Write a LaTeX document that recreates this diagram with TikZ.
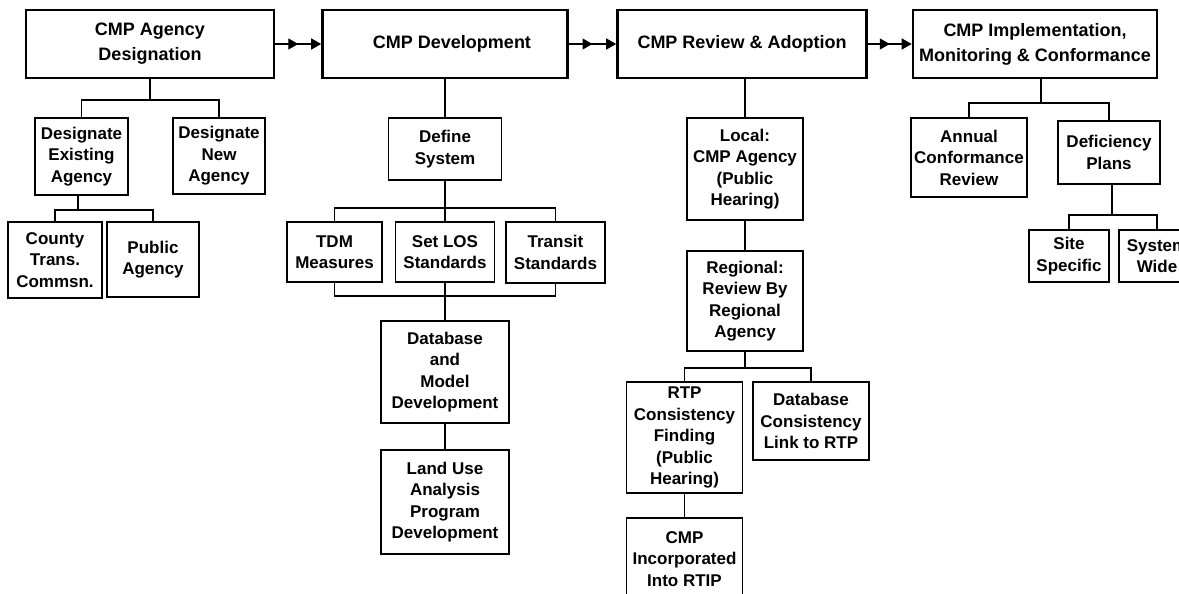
\documentclass[tikz,border=0pt]{standalone}
\usepackage{fontspec}
\setmainfont{Liberation Sans}
\usetikzlibrary{arrows.meta,decorations.markings}
\begin{document}
\begin{tikzpicture}[x=1pt,y=-1pt,
  stage/.style={draw, line width=2.6pt, rectangle, inner sep=0pt, align=center,
    font=\fontsize{18}{25}\selectfont\bfseries},
  task/.style={draw, line width=1.3pt, rectangle, inner sep=0pt, align=center,
    font=\fontsize{17}{21.5}\selectfont\bfseries},
  link/.style={line width=1.3pt},
  flow/.style={line width=1.3pt, -{Triangle[length=10pt,width=11pt]},
    postaction={decorate},
    decoration={markings, mark=at position 0.5 with {\arrow{Triangle[length=10pt,width=11pt]}}}}
]
\useasboundingbox (0,0) rectangle (1179,594);
\clip (0,0) rectangle (1179,594);

% main stages
\node[stage, minimum width=248, minimum height=68] (h1) at (150,44) {CMP Agency\\Designation};
\node[stage, minimum width=245, minimum height=68] (h2) at (445,44) {\hspace*{14pt}CMP Development};
\node[stage, minimum width=249, minimum height=68] (h3) at (742,44) {CMP Review \& Adoption};
\node[stage, minimum width=244, minimum height=68] (h4) at (1035,44) {CMP Implementation,\\Monitoring \& Conformance};

\draw[flow] (h1) -- (h2);
\draw[flow] (h2) -- (h3);
\draw[flow] (h3) -- (h4);

% agency designation
\node[task, minimum width=93, minimum height=77] (c1a) at (81.5,156.5) {Designate\\Existing\\Agency};
\node[task, minimum width=92, minimum height=76] (c1b) at (219,156) {Designate\\New\\Agency};
\node[task, minimum width=94, minimum height=76] (c1c) at (55,260) {County\\Trans.\\Commsn.};
\node[task, minimum width=92, minimum height=75] (c1d) at (153,259.5) {Public\\Agency};

\coordinate (j1) at (150,100);
\draw[link] (h1) -- (j1);
\draw[link] (c1a) |- (j1) -| (c1b);
\coordinate (j1b) at (78,210);
\draw[link] (j1b) -- (j1b |- c1a.south);
\draw[link] (c1c) |- (j1b) -| (c1d);

% development
\node[task, minimum width=113, minimum height=62] (c2a) at (445,149) {Define\\System};
\node[task, minimum width=95, minimum height=60] (c2b) at (334.5,252) {TDM\\Measures};
\node[task, minimum width=99, minimum height=60] (c2c) at (445,252) {Set LOS\\Standards};
\node[task, minimum width=99, minimum height=61] (c2d) at (555.5,252.5) {Transit\\Standards};
\node[task, minimum width=128, minimum height=102] (c2e) at (445,372) {Database\\and\\Model\\Development};
\node[task, minimum width=128, minimum height=104] (c2f) at (445,502) {Land Use\\Analysis\\Program\\Development};

\draw[link] (h2) -- (c2a);
\coordinate (j2) at (445,208);
\draw[link] (c2a) -- (j2);
\draw[link] (c2b) |- (j2) -| (c2d);
\draw[link] (j2) -- (c2c);
\coordinate (j2b) at (445,296);
\draw[link] (c2b) |- (j2b) -| (c2d);
\draw[link] (c2c) -- (c2e);
\draw[link] (c2e) -- (c2f);

% review and adoption
\node[task, minimum width=116, minimum height=102] (c3a) at (745,169) {Local:\\CMP Agency\\(Public\\Hearing)};
\node[task, minimum width=116, minimum height=100] (c3b) at (745,301) {Regional:\\Review By\\Regional\\Agency};
\node[task, minimum width=116, minimum height=111] (c3c) at (684.5,437.5) {RTP\\Consistency\\Finding\\(Public\\Hearing)};
\node[task, minimum width=116, minimum height=78] (c3d) at (811,421) {Database\\Consistency\\Link to RTP};
\node[task, minimum width=116, minimum height=82] (c3e) at (684.5,559) {CMP\\Incorporated\\Into RTIP};

\draw[link] (c3a.north) -- (c3a.north |- h3.south);
\draw[link] (c3a) -- (c3b);
\coordinate (j3) at (745,368);
\draw[link] (c3b) -- (j3);
\draw[link] (c3c) |- (j3) -| (c3d);
\draw[link] (c3c) -- (c3e);

% implementation, monitoring and conformance
\node[task, minimum width=116, minimum height=79] (c4a) at (969,157.5) {Annual\\Conformance\\Review};
\node[task, minimum width=102, minimum height=63] (c4b) at (1109,152.5) {Deficiency\\Plans};
\node[task, minimum width=80, minimum height=52] (c4c) at (1069,256) {Site\\Specific};
\node[task, minimum width=76, minimum height=52] (c4d) at (1157,256) {System\\Wide};

\coordinate (j4) at (1041,103);
\draw[link] (j4) -- (j4 |- h4.south);
\draw[link] (c4a) |- (j4) -| (c4b);
\coordinate (j4b) at (1112,215);
\draw[link] (j4b) -- (j4b |- c4b.south);
\draw[link] (c4c) |- (j4b) -| (c4d);
\end{tikzpicture}
\end{document}
